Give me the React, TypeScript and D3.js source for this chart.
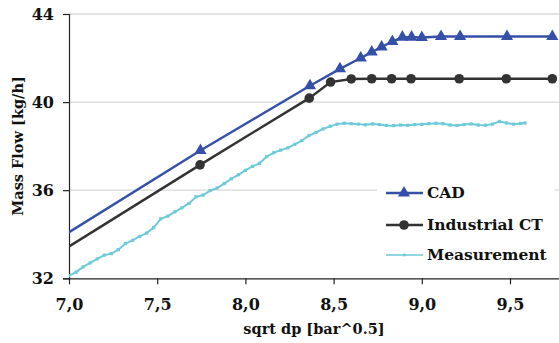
import React, { useRef, useEffect } from "react";
import * as d3 from "d3";

// CAD simulation (first point lies left of the visible axis)
const cadX = [6.5, 7.745, 8.366, 8.536, 8.654, 8.716, 8.772, 8.833, 8.89, 8.942, 9.0, 9.109, 9.217, 9.483, 9.74];
const cadY = [31.6, 37.8, 40.74, 41.51, 42.0, 42.27, 42.5, 42.75, 42.95, 42.95, 42.93, 42.98, 42.98, 42.98, 42.98];

// Industrial CT simulation
const ctX = [6.5, 7.743, 8.362, 8.483, 8.6, 8.716, 8.829, 8.939, 9.212, 9.479, 9.74];
const ctY = [30.95, 37.15, 40.18, 40.91, 41.05, 41.06, 41.06, 41.06, 41.06, 41.06, 41.06];

// Measurement
const measX = [
  7.0, 7.04, 7.08, 7.12, 7.16, 7.2, 7.24, 7.28, 7.32, 7.36, 7.4, 7.44, 7.48, 7.52, 7.56, 7.6, 7.64,
  7.68, 7.72, 7.76, 7.8, 7.84, 7.88, 7.92, 7.96, 8.0, 8.04, 8.08, 8.12, 8.16, 8.2, 8.24, 8.28, 8.32,
  8.36, 8.4, 8.44, 8.48, 8.52, 8.56, 8.6, 8.64, 8.68, 8.72, 8.76, 8.8, 8.84, 8.88, 8.92, 8.96, 9.0,
  9.04, 9.08, 9.12, 9.16, 9.2, 9.24, 9.28, 9.32, 9.36, 9.4, 9.44, 9.48, 9.52, 9.56, 9.585,
];
const measY = [
  32.12, 32.28, 32.52, 32.7, 32.88, 33.05, 33.12, 33.3, 33.58, 33.72, 33.9, 34.05, 34.3, 34.7, 34.82,
  35.02, 35.2, 35.4, 35.7, 35.78, 35.98, 36.1, 36.3, 36.52, 36.7, 36.9, 37.08, 37.22, 37.52, 37.7,
  37.82, 37.92, 38.08, 38.25, 38.48, 38.62, 38.78, 38.9, 39.0, 39.04, 39.02, 39.0, 38.97, 39.01,
  38.98, 38.94, 38.93, 38.96, 38.95, 38.98, 38.99, 39.02, 39.04, 39.02, 38.96, 38.94, 38.98, 39.01,
  38.96, 38.95, 39.0, 39.12, 39.05, 39.0, 39.03, 39.05,
];

const xTicks = [7.0, 7.5, 8.0, 8.5, 9.0, 9.5];
const yTicks = [32, 36, 40, 44];
const legendNames = ["CAD", "Industrial CT", "Measurement"];

const W = 559;
const H = 343;
const FONT = "'DejaVu Serif', serif";

export default function App() {
  const ref = useRef<SVGSVGElement>(null);

  useEffect(() => {
    const svg = d3.select(ref.current);
    svg.selectAll("*").remove();

    const x = d3.scaleLinear().domain([7, 9.8]).range([69, 69 + 2.8 * 176.4]);
    const y = d3.scaleLinear().domain([32, 44]).range([278.3, 14]);

    const left = 69;
    const right = W;
    const top = 14;
    const bottom = 278.3;

    svg
      .append("defs")
      .append("clipPath")
      .attr("id", "plot-clip")
      .append("rect")
      .attr("x", left)
      .attr("y", top - 8)
      .attr("width", right - left)
      .attr("height", bottom - top + 8);

    // gridlines
    svg
      .append("g")
      .selectAll("line")
      .data(yTicks.filter((t) => t !== 32))
      .enter()
      .append("line")
      .attr("x1", left)
      .attr("x2", right)
      .attr("y1", (d) => y(d))
      .attr("y2", (d) => y(d))
      .attr("stroke", "#d9d9d9")
      .attr("stroke-width", 1.3);

    // axes
    const yAxis = d3
      .axisLeft(y)
      .tickValues(yTicks)
      .tickSize(6)
      .tickPadding(9)
      .tickFormat((d) => String(d));
    const gy = svg.append("g").attr("transform", `translate(${left},0)`).call(yAxis);
    gy.select(".domain").attr("stroke", "#222").attr("stroke-width", 1.2);

    const xAxis = d3
      .axisBottom(x)
      .tickValues(xTicks)
      .tickSize(6)
      .tickSizeOuter(0)
      .tickPadding(14)
      .tickFormat((d) => d3.format(".1f")(d as number).replace(".", ","));
    const gx = svg.append("g").attr("transform", `translate(0,${bottom})`).call(xAxis);
    gx.select(".domain").attr("stroke", "#222").attr("stroke-width", 1.2);

    [gx, gy].forEach((g) => {
      g.selectAll(".tick line").attr("stroke", "#222").attr("stroke-width", 1.2);
      g.selectAll("text")
        .attr("font-family", FONT)
        .attr("font-weight", "bold")
        .attr("font-size", 16)
        .attr("fill", "#111");
    });

    // axis titles
    svg
      .append("text")
      .attr("x", 314)
      .attr("y", 334)
      .attr("text-anchor", "middle")
      .attr("font-family", FONT)
      .attr("font-weight", "bold")
      .attr("font-size", 14.5)
      .attr("fill", "#111")
      .text("sqrt dp [bar^0.5]");

    svg
      .append("text")
      .attr("transform", `translate(23,146) rotate(-90)`)
      .attr("text-anchor", "middle")
      .attr("font-family", FONT)
      .attr("font-weight", "bold")
      .attr("font-size", 14.5)
      .attr("fill", "#111")
      .text("Mass Flow [kg/h]");

    const plot = svg.append("g").attr("clip-path", "url(#plot-clip)");
    const line = d3
      .line<[number, number]>()
      .x((d) => x(d[0]))
      .y((d) => y(d[1]));

    const meas = measX.map((v, i) => [v, measY[i]] as [number, number]);
    const ct = ctX.map((v, i) => [v, ctY[i]] as [number, number]);
    const cad = cadX.map((v, i) => [v, cadY[i]] as [number, number]);

    // measurement
    plot
      .append("path")
      .attr("d", line(meas))
      .attr("fill", "none")
      .attr("stroke", "#6ccad9")
      .attr("stroke-width", 2);
    plot
      .selectAll(".mdot")
      .data(meas)
      .enter()
      .append("rect")
      .attr("x", (d) => x(d[0]) - 1.6)
      .attr("y", (d) => y(d[1]) - 1.6)
      .attr("width", 3.2)
      .attr("height", 3.2)
      .attr("fill", "#6ccad9");

    // industrial CT
    plot
      .append("path")
      .attr("d", line(ct))
      .attr("fill", "none")
      .attr("stroke", "#333333")
      .attr("stroke-width", 2.4);
    plot
      .selectAll(".cdot")
      .data(ct)
      .enter()
      .append("circle")
      .attr("cx", (d) => x(d[0]))
      .attr("cy", (d) => y(d[1]))
      .attr("r", 4.8)
      .attr("fill", "#333333");

    // CAD
    const tri = d3.symbol().type(d3.symbolTriangle).size(64);
    plot
      .append("path")
      .attr("d", line(cad))
      .attr("fill", "none")
      .attr("stroke", "#3550a8")
      .attr("stroke-width", 2.4);
    plot
      .selectAll(".tdot")
      .data(cad)
      .enter()
      .append("path")
      .attr("d", tri())
      .attr("transform", (d) => `translate(${x(d[0])},${y(d[1])})`)
      .attr("fill", "#3550a8");

    // legend
    const legend = svg.append("g");
    legend
      .append("rect")
      .attr("x", 377)
      .attr("y", 176)
      .attr("width", 178)
      .attr("height", 94)
      .attr("fill", "#fff");
    const rows = [193, 225, 255];
    const colors = ["#3550a8", "#333333", "#6ccad9"];
    legendNames.forEach((name, i) => {
      const gL = legend.append("g").attr("transform", `translate(0,${rows[i]})`);
      gL.append("line")
        .attr("x1", 386)
        .attr("x2", 423)
        .attr("stroke", colors[i])
        .attr("stroke-width", i === 2 ? 1.6 : 2.4);
      if (i === 0) gL.append("path").attr("d", tri()).attr("transform", "translate(404,0)").attr("fill", colors[i]);
      if (i === 1) gL.append("circle").attr("cx", 404).attr("r", 4.8).attr("fill", colors[i]);
      if (i === 2) gL.append("rect").attr("x", 403).attr("y", -1.3).attr("width", 2.6).attr("height", 2.6).attr("fill", colors[i]);
      gL.append("text")
        .attr("x", 427)
        .attr("dy", "0.35em")
        .attr("font-family", FONT)
        .attr("font-weight", "bold")
        .attr("font-size", 15.5)
        .attr("fill", "#111")
        .text(name);
    });
  }, []);

  return (
    <svg
      ref={ref}
      width={W}
      height={H}
      style={{ position: "absolute", left: 0, top: 0, display: "block", background: "#fff" }}
    />
  );
}
